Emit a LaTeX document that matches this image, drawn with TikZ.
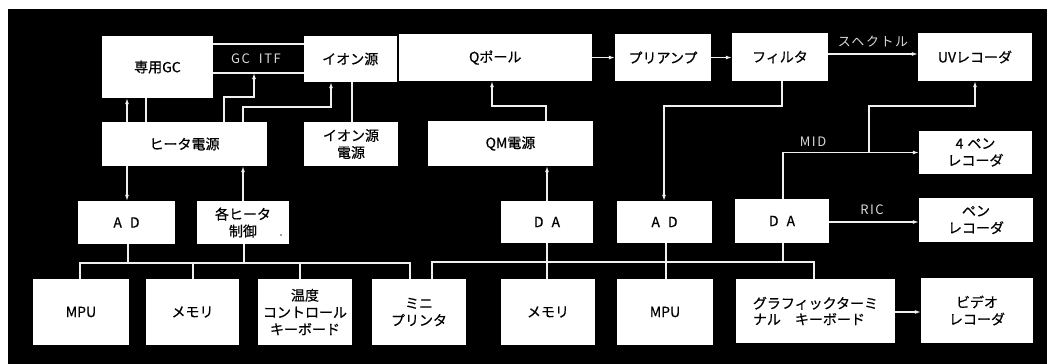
\documentclass[tikz,border=0pt]{standalone}
\usepackage{fontspec}
\setmainfont{Noto Sans CJK JP}[FakeBold=0.5]
\newfontfamily\labfont{Noto Sans CJK JP}[LetterSpace=12]
\usetikzlibrary{arrows.meta}
\tikzset{
  box/.style={fill=white, text=black, inner sep=0pt, align=center,
    font=\fontsize{14}{17}\selectfont},
  sz/.style 2 args={minimum width=#1pt, minimum height=#2pt},
  wire/.style={draw=white!94!black, line width=1.1pt},
  arr/.style={wire, -{Latex[length=6pt,width=4pt]}},
  lbl/.style={text=white!85!black, inner sep=0pt,
    font=\labfont\fontsize{13}{15}\selectfont},
}
\begin{document}
\begin{tikzpicture}[x=1pt,y=-1pt]
\useasboundingbox (0,0) rectangle (1047,364);
\fill[white] (0,0) rectangle (1047,364);
\fill[black] (8,9) rectangle (1047,364);

% top row
\node[box,sz={111}{62}] (gc) at (157.5,67) {専用GC};
\node[box,sz={92.5}{46}] (ion) at (350.25,59) {イオン源};
\node[box,sz={193.5}{47}] (qpole) at (495.25,57.5) {Qポール};
\node[box,sz={96}{47}] (preamp) at (663,57.5) {プリアンプ};
\node[box,sz={96}{48}] (filter) at (780,57) {フィルタ};
\node[box,sz={114}{48}] (uv) at (975,57) {UVレコーダ};

% second row
\node[box,sz={165}{44}] (heater) at (184.5,144) {ヒータ電源};
\node[box,sz={94}{44}] (ionps) at (351,144) {イオン源\\電源};
\node[box,sz={165}{45}] (qmps) at (510.5,143.5) {QM電源};
\node[box,sz={113}{43}] (pen4) at (975.5,152.5) {4\hspace{4pt}ペン\\レコーダ};

% third row
\node[box,sz={97}{43}] (ad1) at (126.5,222.5) {A\hspace{8pt}D};
\node[box,sz={92}{43}] (hctl) at (243,222.5) {各ヒータ\\制御};
\node[text=black, inner sep=0pt, font=\fontsize{10}{10}\selectfont] (dot) at (281,235) {.};
\node[box,sz={92}{42}] (da1) at (547,222) {D\hspace{8pt}A};
\node[box,sz={95}{42}] (ad2) at (664.5,222) {A\hspace{8pt}D};
\node[box,sz={94}{44}] (da2) at (782,221) {D\hspace{8pt}A};
\node[box,sz={114}{44}] (pen) at (976,220) {ペン\\レコーダ};

% bottom row
\node[box,sz={96}{66}] (mpu1) at (81,312) {MPU};
\node[box,sz={93}{66}] (mem1) at (192.5,312) {メモリ};
\node[box,sz={94}{66}] (temp) at (305,312) {温度\\コントロール\\キーボード};
\node[box,sz={94}{66}] (mini) at (419,312) {ミニ\\プリンタ};
\node[box,sz={94}{66}] (mem2) at (548,312) {メモリ};
\node[box,sz={96}{66}] (mpu2) at (665,312) {MPU};
\node[box,sz={159}{64},align=left,font=\fontsize{14}{16}\selectfont] (gra) at (815.5,311) {グラフィックターミ\\ナル　キーボード};
\node[box,sz={112}{65}] (video) at (977,310.5) {ビデオ\\レコーダ};

% GC ITF
\draw[wire] (gc.east |- 0,44) -- (ion.west |- 0,44);
\draw[wire] (gc.east |- 0,73) -- (ion.west |- 0,73);
\node[lbl] (itf) at (256,59) {GC\hspace{9pt}ITF};
\coordinate (itfb) at (254,73);

% heater connections
\draw[arr] (heater.north -| 127,0) -- (gc.south -| 127,0);
\draw[wire] (heater.north -| 146,0) -- (gc.south -| 146,0);
\draw[arr] (heater.north -| 224,0) |- (254,97) -- (itfb);
\draw[arr] (heater.north -| 243,0) |- (331,107) -- (ion.south -| 331,0);
\draw[wire] (ion.south -| 352,0) -- (ionps.north -| 352,0);
\draw[arr] (heater.south -| 127,0) -- (ad1.north -| 127,0);
\draw[arr] (hctl.north -| 243,0) -- (heater.south -| 243,0);

% Q pole chain
\draw[arr] (qmps.north -| 546,0) |- (492,106) -- (qpole.south -| 492,0);
\draw[arr] (da1.north -| 547,0) -- (qmps.south -| 547,0);
\draw[arr] (qpole.east) -- (preamp.west);
\draw[arr] (preamp.east) -- (filter.west |- preamp.east);
\draw[arr] (filter.east |- 0,54) -- (uv.west |- 0,54);
\node[lbl] (spec) at (873,42) {スヘクトル};
\draw[arr] (filter.south -| 782,0) |- (664,106) -- (ad2.north -| 664,0);

% MID / RIC
\draw[arr] (da2.north -| 783,0) |- (pen4.west);
\node[lbl] (mid) at (813,142) {MID};
\coordinate (mj) at (869,152.5);
\draw[arr] (mj) |- (975,106) -- (uv.south -| 975,0);
\draw[arr] (da2.east |- 0,222) -- (pen.west |- 0,222);
\node[lbl] (ric) at (872,210) {RIC};
\draw[arr] (gra.east |- 0,312) -- (video.west |- 0,312);

% left bus
\coordinate (bl) at (80,263);
\coordinate (br) at (410,263);
\draw[wire] (mpu1.north -| bl) -- (bl) -- (br) -- (mini.north -| br);
\draw[wire] (mem1.north -| 193,0) -- (bl -| 193,0);
\draw[wire] (temp.north -| 300,0) -- (bl -| 300,0);
\draw[wire] (ad1.south -| 128,0) -- (bl -| 128,0);
\draw[wire] (hctl.south -| 244,0) -- (bl -| 244,0);

% right bus
\coordinate (bl2) at (432,262);
\coordinate (br2) at (814,262);
\draw[wire] (mini.north -| bl2) -- (bl2) -- (br2) -- (gra.north -| br2);
\draw[wire] (da1.south -| 547,0) -- (mem2.north -| 547,0);
\draw[wire] (ad2.south -| 666,0) -- (mpu2.north -| 666,0);
\draw[wire] (da2.south -| 783,0) -- (bl2 -| 783,0);
\end{tikzpicture}
\end{document}
